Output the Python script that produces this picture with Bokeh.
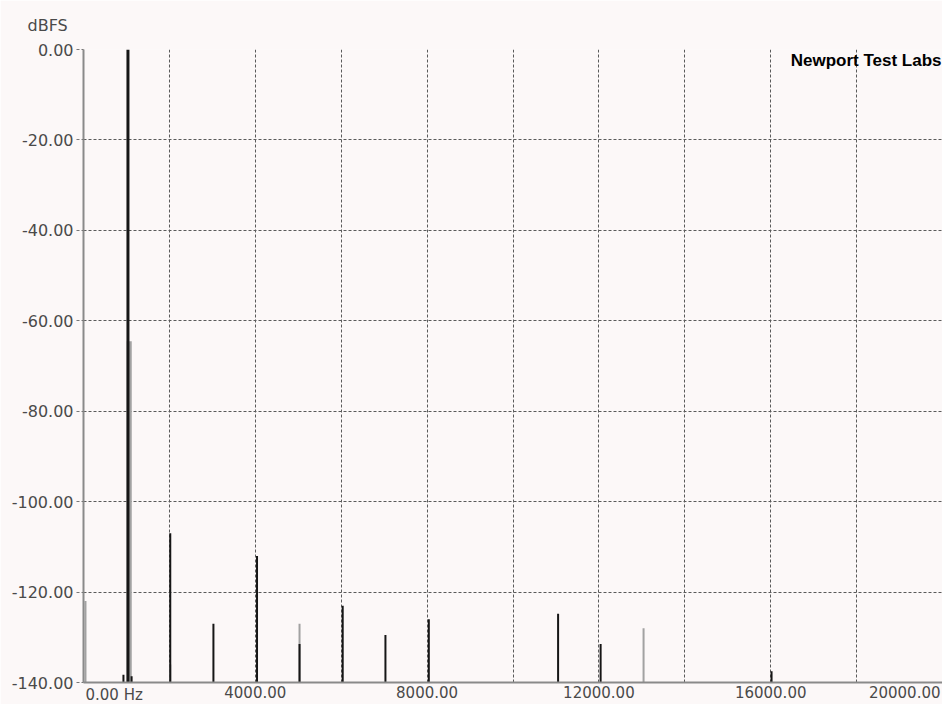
from bokeh.plotting import figure
from bokeh.models import FixedTicker, Label
from bokeh.embed import file_html
from bokeh.resources import INLINE

# ---- data ----
# channel 1 (black trace): frequency (Hz) and peak level (dBFS)
black_freq = [930, 1035, 1120, 2020, 3025, 4040, 5030, 6035, 7030, 8040, 11050, 12040, 16020]
black_level = [-138.3, 0.0, -138.6, -107.0, -127.0, -112.0, -131.5, -123.0, -129.5, -126.0, -124.8, -131.5, -137.5]
# channel 2 (grey trace)
grey_freq = [46, 1065, 2020, 5030, 13040]
grey_level = [-122.0, -64.5, -136.0, -127.0, -128.0]

y_ticks = [0, -20, -40, -60, -80, -100, -120, -140]
y_labels = ["0.00", "-20.00", "-40.00", "-60.00", "-80.00", "-100.00", "-120.00", "-140.00"]
x_ticks = [0, 4000, 8000, 12000, 16000, 20000]
x_labels = ["0.00 Hz", "4000.00", "8000.00", "12000.00", "16000.00", "20000.00"]
x_grid = [0, 2000, 4000, 6000, 8000, 10000, 12000, 14000, 16000, 18000, 20000]
y_unit = "dBFS"
credit = "Newport Test Labs"

BG = "#fcf8f8"
TXT = "#4a4a4a"
FONT = "DejaVu Sans"

p = figure(width=942, height=704, x_range=(x_ticks[0], x_ticks[-1]), y_range=(y_ticks[-1], y_ticks[0]),
           output_backend="svg", toolbar_location=None, title=None,
           min_border_left=83, min_border_right=0, min_border_top=47, min_border_bottom=22)
p.background_fill_color = BG
p.border_fill_color = BG
p.outline_line_color = None

# grids
p.xgrid.ticker = FixedTicker(ticks=x_grid)
p.ygrid.ticker = FixedTicker(ticks=y_ticks)
for g in (p.xgrid, p.ygrid):
    g.grid_line_color = "#5a5a5a"
    g.grid_line_dash = "3 2"
    g.grid_line_width = 1

# y axis
ya = p.yaxis[0]
ya.ticker = FixedTicker(ticks=y_ticks)
ya.major_label_overrides = {t: s for t, s in zip(y_ticks, y_labels)}
ya.axis_line_color = "#8a8a8a"
ya.axis_line_width = 2
ya.major_tick_out = 7
ya.major_tick_in = 0
ya.major_tick_line_color = "#777777"
ya.major_tick_line_dash = "3 2"
ya.minor_tick_line_color = None
ya.major_label_standoff = 3
ya.major_label_text_font = FONT
ya.major_label_text_font_size = "16px"
ya.major_label_text_color = TXT

# x axis (inner labels through the axis)
xa = p.xaxis[0]
xa.ticker = FixedTicker(ticks=x_ticks[1:-1])
xa.major_label_overrides = {t: s for t, s in zip(x_ticks, x_labels)}
xa.axis_line_color = "#8a8a8a"
xa.axis_line_width = 2
xa.major_tick_out = 0
xa.major_tick_in = 0
xa.minor_tick_line_color = None
xa.major_label_standoff = 3
xa.major_label_text_font = FONT
xa.major_label_text_font_size = "15px"
xa.major_label_text_color = TXT

floor = y_ticks[-1]
top = y_ticks[0]

# grey trace
p.segment(x0=grey_freq, y0=[floor] * len(grey_freq), x1=grey_freq, y1=grey_level,
          line_color="#a2a2a2", line_width=[5 if v > -100 else 2 for v in grey_level])
# black trace
p.segment(x0=black_freq, y0=[floor] * len(black_freq), x1=black_freq, y1=black_level,
          line_color="#161616", line_width=[3 if v > -100 else 2 for v in black_level])

# texts kept outside the frame live in the (otherwise empty) top panel so they are not clipped
# unit label above the y axis
p.add_layout(Label(x=x_ticks[0], y=top, text=y_unit, text_align="left", text_baseline="bottom",
                   x_offset=-56, y_offset=15, text_font=FONT, text_font_size="16px",
                   text_color=TXT), "above")
# edge tick labels of the x axis, aligned to the frame edges
p.add_layout(Label(x=x_ticks[0], y=floor, text=x_labels[0],
                   text_align="left", text_baseline="top", x_offset=2, y_offset=-3,
                   text_font=FONT, text_font_size="15px", text_color=TXT), "above")
p.add_layout(Label(x=x_ticks[-1], y=floor, text=x_labels[-1],
                   text_align="right", text_baseline="top", x_offset=-2, y_offset=-3,
                   text_font=FONT, text_font_size="15px", text_color=TXT), "above")

# credit text
p.add_layout(Label(x=x_ticks[-1], y=top, text=credit, text_align="right", text_baseline="top",
                   x_offset=-1, y_offset=-1, text_font="Liberation Sans", text_font_style="bold",
                   text_font_size="17px", text_color="#000000"))

open("out.html", "w").write(file_html(p, INLINE))
